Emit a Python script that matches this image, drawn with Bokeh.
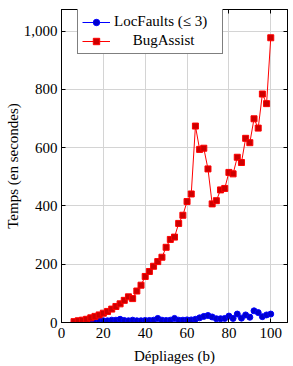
from bokeh.plotting import figure
from bokeh.models import Range1d, LinearAxis, NumeralTickFormatter, FixedTicker, Legend
from bokeh.embed import file_html
from bokeh.resources import INLINE

unfoldings = list(range(6, 101, 2))
locfaults = [0, 1, 1, 2, 3, 4, 5, 6, 6, 8, 8, 11, 7, 6, 8, 6, 6, 7, 7, 8,
             14, 8, 7, 8, 14, 8, 8, 9, 9, 11, 16, 21, 24, 19, 13, 13, 14, 22, 14, 29,
             15, 26, 18, 40, 34, 20, 26, 29]
bugassist = [3, 6, 8, 11, 16, 21, 26, 32, 38, 46, 55, 64, 76, 88, 82, 108, 128, 158, 175, 193,
             209, 224, 258, 285, 293, 340, 368, 415, 441, 674, 594, 598, 527, 407, 418, 455, 460, 515, 510, 567,
             549, 632, 617, 699, 667, 784, 751, 977]
x_ticks = [0, 20, 40, 60, 80, 100]
y_ticks = [0, 200, 400, 600, 800, 1000]
series_names = ["LocFaults (\u2264 3)", "\u00a0\u00a0\u00a0\u00a0\u00a0BugAssist"]

FONT = "Liberation Serif"
FS = "15px"

p = figure(width=293, height=366, output_backend="svg", toolbar_location=None,
           x_range=Range1d(0, 108), y_range=Range1d(0, 1074),
           min_border_left=61, min_border_right=6, min_border_top=9, min_border_bottom=42)

p.xaxis.ticker = FixedTicker(ticks=x_ticks)
p.yaxis.ticker = FixedTicker(ticks=y_ticks)
p.yaxis.formatter = NumeralTickFormatter(format="0,0")
for ax in p.xaxis + p.yaxis:
    ax.major_tick_in = 4
    ax.major_tick_out = 0
    ax.minor_tick_line_color = None
    ax.axis_line_color = "black"
    ax.major_tick_line_color = "black"
    ax.major_label_text_font = FONT
    ax.major_label_text_font_size = FS
    ax.major_label_text_color = "black"
    ax.axis_label_text_font = FONT
    ax.axis_label_text_font_size = FS
    ax.axis_label_text_font_style = "normal"
    ax.axis_label_text_color = "black"
p.xaxis.major_label_standoff = 5
p.yaxis.major_label_standoff = 4
p.xaxis.axis_label = "D\u00e9pliages (b)"
p.yaxis.axis_label = "Temps (en secondes)"
p.xaxis.axis_label_standoff = 7
p.yaxis.axis_label_standoff = 0

for loc, t in (("right", y_ticks), ("above", x_ticks)):
    ax = LinearAxis(ticker=FixedTicker(ticks=t), major_label_text_font_size="1px",
                    major_label_text_color=None,
                    major_tick_in=4, major_tick_out=0, minor_tick_line_color=None,
                    axis_line_color="black", major_tick_line_color="black",
                    major_label_standoff=0)
    p.add_layout(ax, loc)

p.grid.grid_line_color = "#d4d4d4"
p.xgrid.ticker = FixedTicker(ticks=x_ticks)
p.ygrid.ticker = FixedTicker(ticks=y_ticks)
p.outline_line_color = "black"

l1 = p.line(unfoldings, locfaults, line_color="#0000ff", line_width=1)
s1 = p.scatter(unfoldings, locfaults, marker="circle", size=6, fill_color="#0000cc", line_color="#0000ff")
l2 = p.line(unfoldings, bugassist, line_color="#ff0000", line_width=1)
s2 = p.scatter(unfoldings, bugassist, marker="square", size=6, fill_color="#cc0000", line_color="#ff0000")

legend = Legend(items=[(series_names[0], [l1, s1]), (series_names[1], [l2, s2])],
                location=(16, 268), glyph_width=28, glyph_height=16, label_height=16,
                label_width=104,
                label_standoff=4, padding=4, spacing=2, margin=0,
                label_text_font=FONT, label_text_font_size=FS, label_text_color="black",
                border_line_color="black", border_line_width=1, background_fill_alpha=1)
p.add_layout(legend, "center")

open("out.html", "w").write(file_html(p, INLINE))
